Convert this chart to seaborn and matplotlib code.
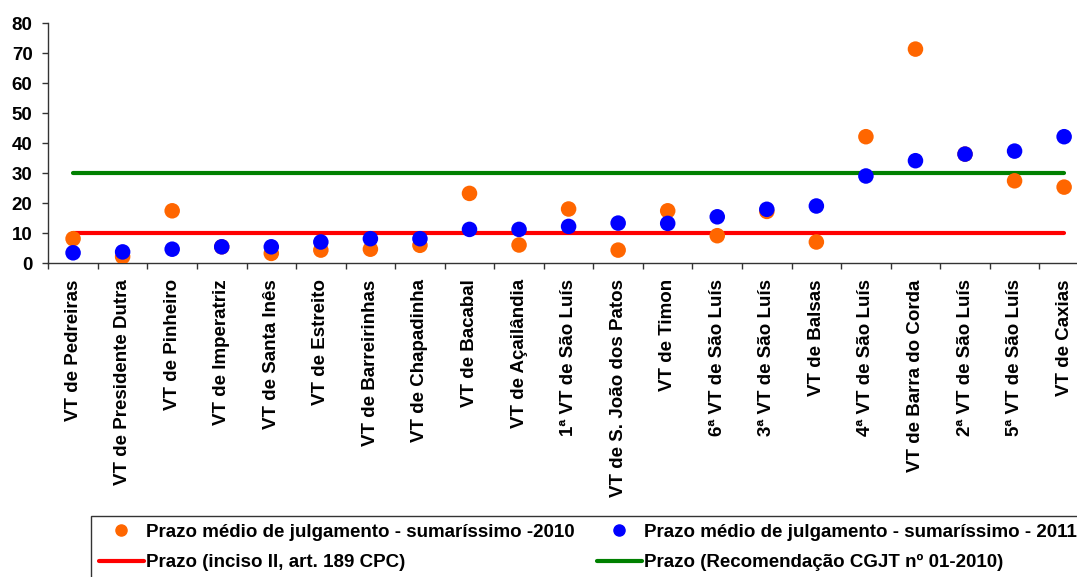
import matplotlib
matplotlib.use("Agg")
import matplotlib.pyplot as plt
from matplotlib.lines import Line2D
import numpy as np
import pandas as pd
import seaborn as sns

# Varas do Trabalho (ordem de exibição)
varas = [
    "VT de Pedreiras", "VT de Presidente Dutra", "VT de Pinheiro", "VT de Imperatriz",
    "VT de Santa Inês", "VT de Estreito", "VT de Barreirinhas", "VT de Chapadinha",
    "VT de Bacabal", "VT de Açailândia", "1ª VT de São Luís", "VT de S. João dos Patos",
    "VT de Timon", "6ª VT de São Luís", "3ª VT de São Luís", "VT de Balsas",
    "4ª VT de São Luís", "VT de Barra do Corda", "2ª VT de São Luís", "5ª VT de São Luís",
    "VT de Caxias",
]

# Prazo médio de julgamento (dias) - rito sumaríssimo
prazo_2010 = [8.2, 2.2, 17.5, 5.5, 3.3, 4.4, 4.7, 6.0, 23.3, 6.1, 18.1,
              4.4, 17.5, 9.2, 17.3, 7.1, 42.2, 71.4, 36.4, 27.5, 25.4]
prazo_2011 = [3.5, 3.8, 4.7, 5.5, 5.5, 7.1, 8.2, 8.2, 11.3, 11.3, 12.3,
              13.4, 13.3, 15.5, 18.0, 19.1, 29.1, 34.2, 36.4, 37.4, 42.2]

# Prazos de referência
prazo_cpc = 10
prazo_cgjt = 30

label_2010 = "Prazo médio de julgamento - sumaríssimo -2010"
label_2011 = "Prazo médio de julgamento - sumaríssimo - 2011"
label_cpc = "Prazo (inciso II, art. 189 CPC)"
label_cgjt = "Prazo (Recomendação CGJT nº 01-2010)"

df = pd.DataFrame({
    "vara": varas,
    "2010": prazo_2010,
    "2011": prazo_2011,
    "cpc": [prazo_cpc] * len(varas),
    "cgjt": [prazo_cgjt] * len(varas),
})

sns.set_style("white")
plt.rcParams["font.family"] = ["Liberation Sans", "DejaVu Sans"]
plt.rcParams["font.weight"] = "bold"
plt.rcParams["text.color"] = "black"
plt.rcParams["xtick.color"] = "#333333"
plt.rcParams["ytick.color"] = "#333333"
plt.rcParams["xtick.labelcolor"] = "black"
plt.rcParams["ytick.labelcolor"] = "black"

fig = plt.figure(figsize=(10.77, 5.77), dpi=100)
ax = fig.add_axes([48.3 / 1077, 1 - 263.3 / 577, 1040.6 / 1077, 240 / 577])

orange = "#FF6600"
blue = "#0000FF"
red = "#FF0000"
green = "#008000"

sns.lineplot(data=df, x="vara", y="cpc", ax=ax, color=red, lw=3, sort=False,
             solid_capstyle="round", zorder=2)
sns.lineplot(data=df, x="vara", y="cgjt", ax=ax, color=green, lw=3, sort=False,
             solid_capstyle="round", zorder=2)
sns.scatterplot(data=df, x="vara", y="2010", ax=ax, color=orange, s=125,
                edgecolor="none", zorder=3)
sns.scatterplot(data=df, x="vara", y="2011", ax=ax, color=blue, s=125,
                edgecolor="none", zorder=4)

n = len(varas)
ax.set_xlim(-0.5, n - 0.5)
ax.set_ylim(0, 80)
ax.set_yticks(np.arange(0, 81, 10))
ax.set_xlabel("")
ax.set_ylabel("")

# Rótulos centrados; marcas de escala nas divisas entre categorias
ax.set_xticks(np.arange(n))
ax.set_xticklabels(varas, rotation=90, fontsize=13.5, fontweight="bold", va="top")
ax.set_xticks(np.arange(n + 1) - 0.5, minor=True)
ax.tick_params(axis="x", which="major", bottom=True, length=0, pad=11.5)
ax.tick_params(axis="x", which="minor", bottom=True, length=4.3, width=1,
               direction="out")
ax.tick_params(axis="y", left=True, length=4.3, width=1, direction="out", pad=7,
               labelsize=13.5)
for lbl in ax.get_yticklabels():
    lbl.set_fontweight("bold")

for side in ("top", "right"):
    ax.spines[side].set_visible(False)
for side in ("left", "bottom"):
    ax.spines[side].set_color("#333333")
    ax.spines[side].set_linewidth(1)

handles = [
    Line2D([], [], marker="o", ls="none", color=orange, markersize=8),
    Line2D([], [], color=red, lw=3),
    Line2D([], [], marker="o", ls="none", color=blue, markersize=8),
    Line2D([], [], color=green, lw=3),
]
labels = [label_2010, label_cpc, label_2011, label_cgjt]
leg = fig.legend(handles, labels, ncol=2, loc="upper left",
                 bbox_to_anchor=(91 / 1077, 1 - 516 / 577),
                 bbox_transform=fig.transFigure, frameon=True, fancybox=False,
                 edgecolor="#333333", framealpha=1, borderaxespad=0,
                 prop={"size": 13.5, "weight": "bold"}, handlelength=2.4,
                 handletextpad=0.12, columnspacing=1.2, labelspacing=0.72,
                 borderpad=0.4)
leg.get_frame().set_linewidth(1)

fig.savefig("out.png", dpi=100)
